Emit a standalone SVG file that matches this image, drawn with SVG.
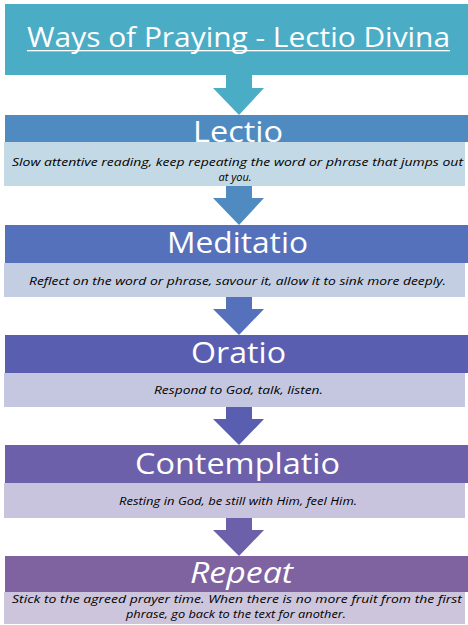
<svg xmlns="http://www.w3.org/2000/svg" width="468" height="625" viewBox="0 0 468 625">
<style>
.hd{font-family:"Open Sans","DejaVu Sans",sans-serif;fill:#fff;text-anchor:middle}
.sb{font-family:"Open Sans","DejaVu Sans",sans-serif;font-style:italic;font-size:11px;fill:#000;text-anchor:middle}
</style>
<rect width="468" height="625" fill="#fff"/>
<g id="connectors">
<path d="M226,75H252V88H264L239,115L213,88H226Z" fill="#4BACC6"/>
<path d="M226,186H252V198H264L239,225L213,198H226Z" fill="#4F8BC0"/>
<path d="M226,297H252V309H264L239,335L213,309H226Z" fill="#5571BB"/>
<path d="M226,407H252V419H264L239,445L213,419H226Z" fill="#5A5EB0"/>
<path d="M226,518H252V530H264L239,556L213,530H226Z" fill="#6B60A9"/>
</g>
<g id="title">
<rect x="5" y="4" width="463" height="71" fill="#4BACC6"/>
<text class="hd" x="238.5" y="47" font-size="27" textLength="423" lengthAdjust="spacingAndGlyphs">Ways of Praying - Lectio Divina</text>
<rect x="27" y="50" width="423" height="1.3" fill="#fff"/>
</g>
<g id="lectio">
<rect x="5" y="115" width="463" height="27" fill="#4F8BC0"/>
<rect x="4" y="142" width="461" height="44" fill="#C3D9E5"/>
<text class="hd" x="238" y="142" font-size="30" textLength="90" lengthAdjust="spacingAndGlyphs">Lectio</text>
<text class="sb" x="237.5" y="166" textLength="451" lengthAdjust="spacingAndGlyphs">Slow attentive reading, keep repeating the word or phrase that jumps out</text>
<text class="sb" x="235" y="181">at you.</text>
</g>
<g id="meditatio">
<rect x="5" y="225" width="463" height="38" fill="#5571BB"/>
<rect x="4" y="263" width="461" height="34" fill="#C4CEE3"/>
<text class="hd" x="237.5" y="253" font-size="30" textLength="141" lengthAdjust="spacingAndGlyphs">Meditatio</text>
<text class="sb" x="237.5" y="285" textLength="417" lengthAdjust="spacingAndGlyphs">Reflect on the word or phrase, savour it, allow it to sink more deeply.</text>
</g>
<g id="oratio">
<rect x="5" y="335" width="463" height="38" fill="#5A5EB0"/>
<rect x="4" y="373" width="461" height="34" fill="#C5C7E0"/>
<text class="hd" x="238.5" y="363" font-size="30" textLength="95" lengthAdjust="spacingAndGlyphs">Oratio</text>
<text class="sb" x="238.5" y="394" textLength="169" lengthAdjust="spacingAndGlyphs">Respond to God, talk, listen.</text>
</g>
<g id="contemplatio">
<rect x="5" y="445" width="463" height="38" fill="#6B60A9"/>
<rect x="4" y="483" width="461" height="35" fill="#C9C4DE"/>
<text class="hd" x="237.5" y="474" font-size="30" textLength="205" lengthAdjust="spacingAndGlyphs">Contemplatio</text>
<text class="sb" x="238" y="505" textLength="238" lengthAdjust="spacingAndGlyphs">Resting in God, be still with Him, feel Him.</text>
</g>
<g id="repeat">
<rect x="5" y="556" width="463" height="36" fill="#7F63A1"/>
<rect x="4" y="592" width="461" height="32" fill="#CDC5DC"/>
<text class="hd" x="241.5" y="583" font-size="30" font-style="italic" textLength="103" lengthAdjust="spacingAndGlyphs">Repeat</text>
<text class="sb" x="237" y="603" textLength="450" lengthAdjust="spacingAndGlyphs">Stick to the agreed prayer time. When there is no more fruit from the first</text>
<text class="sb" x="236" y="618" textLength="220" lengthAdjust="spacingAndGlyphs">phrase, go back to the text for another.</text>
</g>
</svg>
